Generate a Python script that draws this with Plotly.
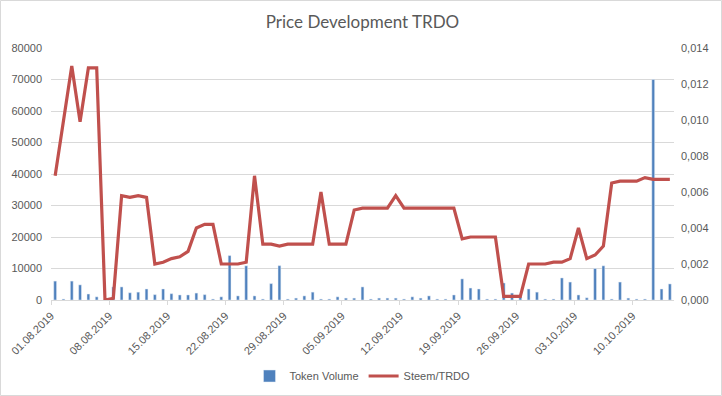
import pandas as pd
import plotly.graph_objects as go

start_date = "2019-08-01"
token_volume = [6000, 300, 6000, 4800, 1900, 1000, 100, 4150, 4150, 2300,
                2500, 3500, 1700, 3500, 2000, 1600, 1600, 2200, 1700, 300,
                1000, 14100, 1300, 10850, 1300, 300, 5200, 10900, 300, 600,
                1300, 2500, 300, 300, 1000, 600, 600, 4150, 300, 600,
                600, 600, 300, 1000, 600, 1300, 300, 300, 1600, 6700,
                3800, 3500, 300, 300, 5400, 2200, 1000, 3500, 2500, 300,
                300, 7000, 5700, 1600, 700, 10000, 10850, 300, 5700, 600,
                300, 300, 70000, 3500, 5100]
steem_trdo = [0.0069, 0.0099, 0.0130, 0.0099, 0.0129, 0.0129, 0.0000, 0.0001, 0.0058, 0.0057,
              0.0058, 0.0057, 0.0020, 0.0021, 0.0023, 0.0024, 0.0027, 0.0040, 0.0042, 0.0042,
              0.0020, 0.0020, 0.0020, 0.0021, 0.0069, 0.0031, 0.0031, 0.0030, 0.0031, 0.0031,
              0.0031, 0.0031, 0.0060, 0.0031, 0.0031, 0.0031, 0.0050, 0.0051, 0.0051, 0.0051,
              0.0051, 0.0058, 0.0051, 0.0051, 0.0051, 0.0051, 0.0051, 0.0051, 0.0051, 0.0034,
              0.0035, 0.0035, 0.0035, 0.0035, 0.0002, 0.0002, 0.0002, 0.0020, 0.0020, 0.0020,
              0.0021, 0.0021, 0.0023, 0.0040, 0.0023, 0.0025, 0.0030, 0.0065, 0.0066, 0.0066,
              0.0066, 0.0068, 0.0067, 0.0067, 0.0067]
dates = pd.date_range(start_date, periods=len(token_volume), freq="D")

title_text = "Price Development TRDO"
bar_name = "Token Volume"
line_name = "Steem/TRDO"

BLUE = "#4f81bd"
RED = "#c0504d"
GRID = "#d9d9d9"
TXT = "#595959"
FONT = "Liberation Sans, Arial, sans-serif"

W, H = 722, 396
L, R, T, B = 51, 48, 48, 96
pw, ph = W - L - R, H - T - B

fig = go.Figure()
fig.add_trace(go.Bar(
    x=dates, y=token_volume, name=bar_name, marker_color=BLUE,
    xperiod=86400000, xperiodalignment="middle", yaxis="y",
))
fig.add_trace(go.Scatter(
    x=dates, y=steem_trdo, name=line_name, mode="lines",
    line=dict(color=RED, width=3.2),
    xperiod=86400000, xperiodalignment="middle", yaxis="y2",
))

fig.update_layout(
    width=W, height=H,
    margin=dict(l=L, r=R, t=T, b=B, autoexpand=False),
    paper_bgcolor="white", plot_bgcolor="white",
    separators=",.",
    bargap=0.66,
    font=dict(family=FONT, size=11, color=TXT),
    title=dict(text=title_text, x=0.5, xref="paper", xanchor="center",
               y=1 - 22 / H, yref="container", yanchor="middle",
               automargin=False,
               font=dict(family="Lato, " + FONT, size=17, color=TXT)),
    xaxis=dict(
        type="date", automargin=False,
        range=[start_date, "2019-10-15"],
        tick0=start_date, dtick=7 * 86400000,
        tickformat="%d.%m.%Y", tickangle=-45,
        showgrid=False, showline=True, linecolor=GRID, linewidth=1,
        ticks="outside", ticklen=4, tickcolor=GRID,
        tickfont=dict(size=11, color=TXT),
        zeroline=False,
    ),
    yaxis=dict(
        automargin=False,
        range=[0, 80000], dtick=10000, tickformat="d",
        showgrid=True, gridcolor=GRID, gridwidth=1,
        zeroline=False, showline=False, ticks="",
        ticklabelstandoff=8,
        tickfont=dict(size=11, color=TXT),
    ),
    yaxis2=dict(
        automargin=False,
        range=[0, 0.014], dtick=0.002, tickformat=".3f",
        overlaying="y", side="right",
        showgrid=False, zeroline=False, showline=False, ticks="",
        ticklabelstandoff=6,
        tickfont=dict(size=11, color=TXT),
    ),
    legend=dict(orientation="h", x=0.5, xanchor="center",
                y=-(376 - (T + ph)) / ph, yanchor="middle",
                font=dict(size=11, color=TXT), bgcolor="rgba(0,0,0,0)",
                itemwidth=30),
    showlegend=True,
)

fig.add_shape(type="rect", xref="paper", yref="paper",
              x0=-(L - 0.5) / pw, x1=1 + (R - 0.5) / pw,
              y0=-(B - 0.5) / ph, y1=1 + (T - 0.5) / ph,
              line=dict(color=GRID, width=1), fillcolor="rgba(0,0,0,0)", layer="below")

fig.write_html("out.html", config={"displayModeBar": False},
               post_script="document.body.style.margin='0';")
